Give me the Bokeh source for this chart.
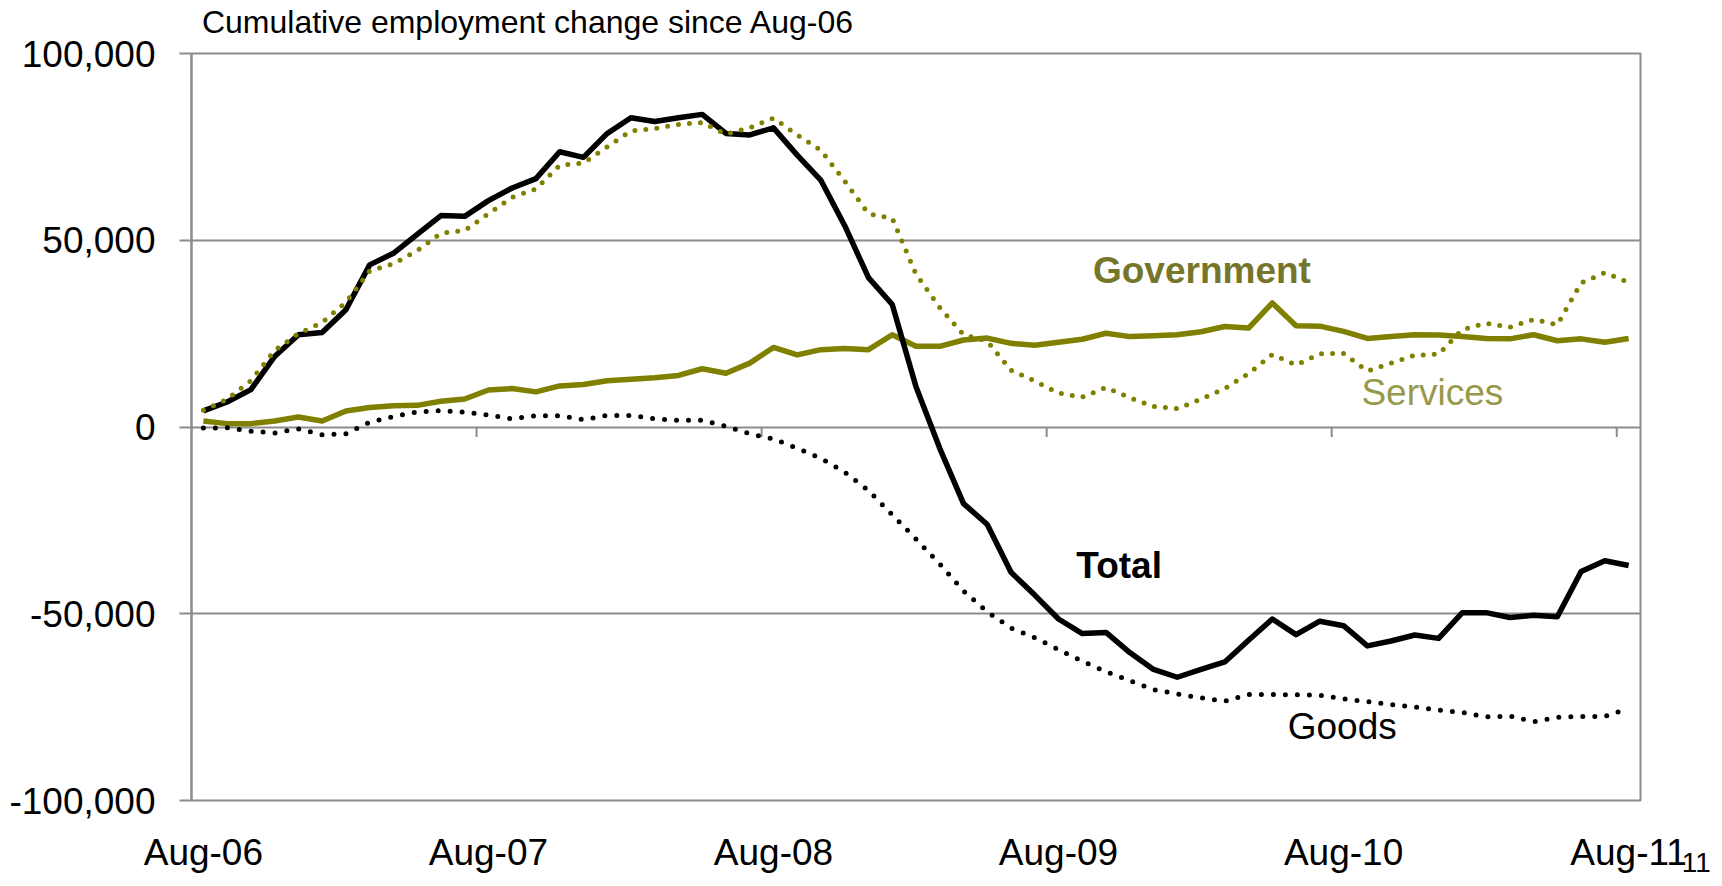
from bokeh.plotting import figure
from bokeh.models import Range1d, FixedTicker, Label
from bokeh.embed import file_html
from bokeh.resources import INLINE

# ---------------- data (thousands of jobs, monthly Aug-06 .. Aug-11) ----------------
x_tick_labels = ["Aug-06", "Aug-07", "Aug-08", "Aug-09", "Aug-10", "Aug-11"]
y_tick_values = [-100000, -50000, 0, 50000, 100000]
y_tick_labels = ["-100,000", "-50,000", "0", "50,000", "100,000"]

total_k = [4.3, 6.7, 10.0, 18.9, 24.7, 25.3, 31.4, 43.4, 46.5, 51.6,
           56.6, 56.4, 60.6, 64.0, 66.5, 73.7, 72.2, 78.6, 82.8, 81.8,
           82.8, 83.7, 78.6, 78.2, 80.1, 72.8, 66.0, 53.9, 40.0, 32.8,
           10.8, -5.7, -20.5, -26.1, -38.9, -45.0, -51.4, -55.3, -55.0, -60.4,
           -64.9, -67.0, -64.9, -62.9, -57.1, -51.4, -55.6, -52.0, -53.2, -58.6,
           -57.3, -55.7, -56.6, -49.7, -49.7, -51.0, -50.4, -50.8, -38.7, -35.8,
           -37.1]
government_k = [1.6, 0.9, 0.9, 1.6, 2.7, 1.6, 4.3, 5.2, 5.7, 5.8,
                6.9, 7.5, 9.9, 10.3, 9.4, 11.0, 11.4, 12.4, 12.8, 13.2,
                13.8, 15.6, 14.4, 17.1, 21.3, 19.3, 20.7, 21.0, 20.7, 24.7,
                21.6, 21.6, 23.3, 23.8, 22.4, 21.9, 22.7, 23.5, 25.1, 24.2,
                24.4, 24.7, 25.5, 26.9, 26.5, 33.2, 27.1, 27.0, 25.6, 23.7,
                24.2, 24.7, 24.6, 24.2, 23.7, 23.6, 24.7, 23.1, 23.6, 22.7,
                23.7]
services_k = [4.5, 7.4, 12.4, 20.5, 25.0, 28.0, 33.4, 41.8, 43.7, 47.2,
              51.9, 52.6, 57.1, 61.5, 63.7, 70.1, 70.7, 75.0, 79.3, 79.9,
              81.0, 81.5, 78.4, 80.1, 82.7, 78.2, 74.1, 65.8, 57.1, 55.9,
              40.9, 32.0, 24.7, 23.0, 15.2, 12.3, 9.1, 8.0, 10.6, 7.8,
              5.5, 4.9, 7.5, 10.3, 14.3, 19.4, 16.6, 19.6, 19.7, 15.0,
              17.1, 19.2, 19.5, 26.1, 27.8, 26.7, 28.8, 27.4, 38.6, 41.3,
              38.7]
goods_k = [-0.3, -0.2, -1.1, -1.6, -0.5, -2.1, -1.8, 1.3, 2.8, 4.0,
           4.4, 4.0, 3.2, 2.2, 3.0, 3.0, 2.0, 3.1, 3.1, 2.2,
           1.8, 1.8, 0.2, -1.8, -3.2, -5.7, -8.4, -12.1, -17.0, -23.5,
           -30.0, -36.7, -43.9, -49.5, -53.8, -56.4, -59.6, -62.7, -65.5, -67.9,
           -70.3, -71.5, -72.5, -73.4, -71.6, -71.6, -71.7, -71.8, -72.8, -73.5,
           -74.3, -75.0, -75.8, -76.4, -77.6, -77.4, -78.9, -77.7, -77.5, -77.5,
           -75.3]

n = len(total_k)
months = list(range(n))
total = [v * 1000 for v in total_k]
government = [v * 1000 for v in government_k]
services = [v * 1000 for v in services_k]
goods = [v * 1000 for v in goods_k]

label_ticks = [12 * k for k in range(len(x_tick_labels))]
boundary_ticks = [t - 0.5 for t in label_ticks[1:]]

# ---------------- styling ----------------
FONT = "Liberation Sans"
GRID = "#8c8c8c"
OLIVE = "#808000"
GOV_TEXT = "#76762a"
SERV_TEXT = "#98984c"
LBL = "37px"

W, H = 1714, 878
B_LEFT, B_RIGHT, B_TOP, B_BOTTOM = 191, 74, 53, 78
p = figure(width=W, height=H, output_backend="svg", toolbar_location=None,
           x_range=Range1d(-0.5, n - 0.5), y_range=Range1d(-100000, 100000),
           min_border_left=B_LEFT, min_border_right=B_RIGHT,
           min_border_top=B_TOP, min_border_bottom=B_BOTTOM)
p.background_fill_color = "white"
p.border_fill_color = "white"
p.outline_line_color = GRID
p.outline_line_width = 2
p.title.visible = False

p.xgrid.grid_line_color = None
p.ygrid.ticker = FixedTicker(ticks=y_tick_values)
p.ygrid.grid_line_color = GRID
p.ygrid.grid_line_width = 2

p.yaxis.ticker = FixedTicker(ticks=y_tick_values)
p.yaxis.major_label_overrides = dict(zip(y_tick_values, y_tick_labels))
p.yaxis.major_tick_out = 12
p.yaxis.major_tick_in = 0
p.yaxis.minor_tick_line_color = None
p.yaxis.axis_line_color = GRID
p.yaxis.axis_line_width = 2
p.yaxis.major_tick_line_color = GRID
p.yaxis.major_tick_line_width = 2
p.yaxis.major_label_standoff = 24
p.yaxis.major_label_text_font = FONT
p.yaxis.major_label_text_font_size = LBL
p.yaxis.major_label_text_color = "black"

p.xaxis.ticker = FixedTicker(ticks=label_ticks)
p.xaxis.major_label_overrides = dict(zip(label_ticks, x_tick_labels))
p.xaxis.major_tick_out = 0
p.xaxis.major_tick_in = 0
p.xaxis.minor_tick_line_color = None
p.xaxis.axis_line_color = None
p.xaxis.major_label_standoff = 31
p.xaxis.major_label_text_font = FONT
p.xaxis.major_label_text_font_size = LBL
p.xaxis.major_label_text_color = "black"

# tick marks hanging below the zero line (category boundaries)
tick_len = 10 * (p.y_range.end - p.y_range.start) / (H - B_TOP - B_BOTTOM)
p.segment(x0=boundary_ticks, y0=[0] * len(boundary_ticks),
          x1=boundary_ticks, y1=[-tick_len] * len(boundary_ticks),
          line_color=GRID, line_width=2)

# series
p.line(months, government, line_color=OLIVE, line_width=5.5, line_join="round")
p.line(months, total, line_color="black", line_width=5.5, line_join="round")
p.line(months, goods, line_color="black", line_width=5, line_dash="0 12",
       line_cap="round")
p.line(months, services, line_color=OLIVE, line_width=5, line_dash="0 11",
       line_cap="round")

# labels
def make_label(text, x, y, color, size, bold=False):
    return Label(x=x, y=y, text=text, text_font=FONT, text_font_size=size,
                 text_color=color, text_align="left",
                 text_baseline="alphabetic",
                 text_font_style="bold" if bold else "normal")

p.add_layout(make_label("Government", 37.45, 42000, GOV_TEXT, LBL, bold=True))
p.add_layout(make_label("Services", 48.75, 9300, SERV_TEXT, LBL))
p.add_layout(make_label("Total", 36.75, -37200, "black", LBL, bold=True))
p.add_layout(make_label("Goods", 45.65, -80300, "black", LBL))
# texts outside the frame go into side panels so they are not clipped
p.add_layout(make_label("Cumulative employment change since Aug-06", -0.06, 108400,
                        "black", "32px"), "above")
p.add_layout(make_label("11", 62.24, -116500, "black", "28px"), "right")

open("out.html", "w").write(file_html(p, INLINE))
